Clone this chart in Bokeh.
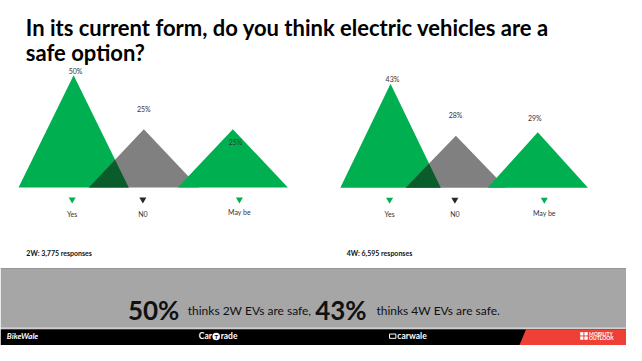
from bokeh.plotting import figure
from bokeh.models import Range1d
from bokeh.core.properties import value
from bokeh.embed import file_html
from bokeh.resources import INLINE

# ---------------- data ----------------
TITLE_LINES = ["In its current form, do you think electric vehicles are a", "safe option?"]
CATEGORIES = ["Yes", "N0", "May be"]
SHARE_2W = [50, 25, 25]
SHARE_4W = [43, 28, 29]
RESPONSES = ["2W: 3,775 responses", "4W: 6,595 responses"]
SUMMARY_TEXT = [" thinks 2W EVs are safe,", " thinks 4W EVs are safe."]
LOGOS = ["BikeWale", "Car", "T", "rade", "carwale", "MOBILITY", "OUTLOOK"]

# ---------------- layout / style ----------------
W_REF, H_REF = 642, 361
W, H = 626, 345
FONT = value("Lato")
GREEN = "#00b050"
GRAY = "#808080"
DARK = "#0b5c2b"
MARK_COLORS = [GREEN, "#262626", GREEN]

PANELS = [
    dict(name="p0", values=SHARE_2W, base=195.7, floor=-2.0, k=2.26,
         centers=[75, 147, 238.3], half=56.5, label_x=[73.5, 146, 245],
         pct_x=[77, 147, 241], pct_dy=[-4.7, -20.5, 12.7], resp_x=26.5),
    dict(name="p1", values=SHARE_4W, base=196.0, floor=13.0, k=3.63,
         centers=[400, 467, 551], half=51.5, label_x=[399, 466, 557.7],
         pct_x=[402, 466.7, 548], pct_dy=[-4.6, -20.6, -14.0], resp_x=355),
]

p = figure(width=W, height=H, x_range=Range1d(0, W_REF), y_range=Range1d(H_REF, 0),
           output_backend="svg", toolbar_location=None, min_border=0,
           x_axis_location=None, y_axis_location=None)
p.grid.visible = False
p.outline_line_color = None
p.background_fill_color = "white"
p.border_fill_color = "white"

extra = {}
for pn in PANELS:
    b, f, k = pn["base"], pn["floor"], pn["k"]
    extra[pn["name"]] = Range1d(start=f + (b - H_REF) / k, end=f + b / k)
p.extra_y_ranges = extra

# ---------------- title ----------------
p.text(x=[26, 26], y=[28.6, 54.3], text=TITLE_LINES, text_font=FONT,
       text_font_size="22px", text_font_style="bold", text_color="#000000",
       text_baseline="alphabetic", text_align="left")

# ---------------- panels ----------------
for pn in PANELS:
    nm, f, h = pn["name"], pn["floor"], pn["half"]
    vals, cs = pn["values"], pn["centers"]

    def tri(i, color):
        c, v = cs[i], vals[i]
        p.patch(x=[c - h, c, c + h], y=[f, v, f], fill_color=color, line_color=None,
                y_range_name=nm)

    tri(0, GREEN)
    tri(1, GRAY)
    # overlap of the first two triangles
    a1, a2 = vals[0] - f, vals[1] - f
    c1, c2 = cs[0], cs[1]
    xi = (a1 * (c1 + h) + a2 * (c2 - h)) / (a1 + a2)
    yi = f + a2 * (xi - (c2 - h)) / h
    p.patch(x=[c2 - h, xi, c1 + h], y=[f, yi, f], fill_color=DARK, line_color=None,
            y_range_name=nm)
    tri(2, GREEN)

    # percentage labels
    p.text(x=pn["pct_x"], y=vals, text=[f"{v}%" for v in vals], y_offset=pn["pct_dy"],
           text_font=FONT, text_font_size="7px", text_color="#333333",
           text_align="center", text_baseline="middle", y_range_name=nm)

    # category markers and labels
    b = pn["base"]
    p.scatter(x=pn["label_x"], y=[b + 12.5] * 3, marker="inverted_triangle", size=7,
              fill_color=MARK_COLORS, line_color=None)
    p.text(x=pn["label_x"], y=[b + 27.5, b + 27.5, b + 26], text=CATEGORIES,
           text_font=FONT, text_font_size="7px", text_color="#333333",
           text_align="center", text_baseline="middle")

p.text(x=[pn["resp_x"] for pn in PANELS], y=[264, 264], text=RESPONSES, text_font=FONT,
       text_font_size="7px", text_font_style="bold", text_color="#111111",
       text_align="left", text_baseline="middle")

# ---------------- summary band ----------------
p.quad(left=0, right=W_REF, top=280, bottom=342.5, fill_color="#a6a6a6", line_color=None)
p.quad(left=0, right=W_REF, top=280, bottom=281, fill_color="#969696", line_color=None)
p.quad(left=0, right=W_REF, top=342.5, bottom=344, fill_color="#cfcfcf", line_color=None)

p.text(x=[130.7, 322.7], y=[324, 324], text=[f"{SHARE_2W[0]}%", f"{SHARE_4W[0]}%"],
       text_font=FONT, text_font_size="26px", text_font_style="bold", text_color="#111111",
       text_align="left", text_baseline="alphabetic")
p.text(x=[192, 385.5], y=[324, 324], text=SUMMARY_TEXT,
       text_font=FONT, text_font_size="12px", text_color="#111111",
       text_align="left", text_baseline="alphabetic")

# ---------------- footer ----------------
FY = 344
p.quad(left=0, right=W_REF, top=FY, bottom=H_REF, fill_color="#000000", line_color=None)
p.patch(x=[539, W_REF, W_REF, 532], y=[FY, FY, H_REF, H_REF], fill_color="#ee4036",
        line_color=None)

p.text(x=[6.5], y=[FY + 7.5], text=[LOGOS[0]], text_font=FONT, text_font_size="8px",
       text_font_style="bold italic", text_color="white", text_baseline="middle")
p.text(x=[216.8], y=[FY + 7.5], text=[LOGOS[1]], text_font=FONT, text_font_size="8.5px",
       text_font_style="bold", text_color="white", text_baseline="middle", text_align="right")
p.scatter(x=[221.2], y=[FY + 7.5], marker="circle", size=7.5, fill_color="white", line_color=None)
p.text(x=[221.2], y=[FY + 7.7], text=[LOGOS[2]], text_font=FONT, text_font_size="6px",
       text_font_style="bold", text_color="black", text_baseline="middle", text_align="center")
p.text(x=[225.8], y=[FY + 7.5], text=[LOGOS[3]], text_font=FONT, text_font_size="8.5px",
       text_font_style="bold", text_color="white", text_baseline="middle", text_align="left")

p.quad(left=399, right=405.5, top=FY + 5, bottom=FY + 9.5, fill_color=None, line_color="white",
       line_width=1)
p.text(x=[407], y=[FY + 7.2], text=[LOGOS[4]], text_font=FONT, text_font_size="8.5px",
       text_font_style="bold", text_color="white", text_baseline="middle", text_align="left")

p.quad(left=[594.5, 598.8, 594.5, 598.8], right=[597.8, 602.2, 597.8, 602.2],
       top=[FY + 3, FY + 3, FY + 7.5, FY + 7.5], bottom=[FY + 6.5, FY + 6.5, FY + 11, FY + 11],
       fill_color="white", line_color=None)
p.text(x=[603.5, 603.5], y=[FY + 4.6, FY + 9.6], text=LOGOS[5:7], text_font=FONT,
       text_font_size="5px", text_font_style="bold", text_color="white",
       text_baseline="middle", text_align="left")

open("out.html", "w").write(file_html(p, INLINE))
